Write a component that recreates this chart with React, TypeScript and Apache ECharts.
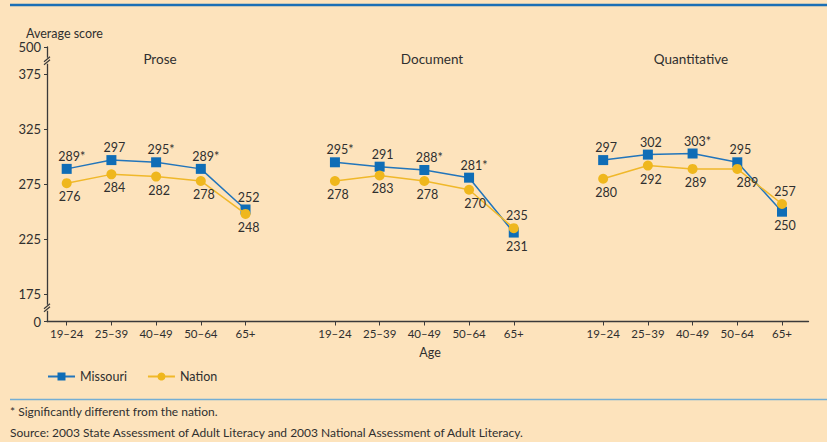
import React, { useEffect, useRef } from "react";
import * as echarts from "echarts";

const ageGroups = ["19–24", "25–39", "40–49", "50–64", "65+"];
const panels = ["Prose", "Document", "Quantitative"];

const missouriProse = [289, 297, 295, 289, 252];
const missouriDocument = [295, 291, 288, 281, 231];
const missouriQuantitative = [297, 302, 303, 295, 250];

const nationProse = [276, 284, 282, 278, 248];
const nationDocument = [278, 283, 278, 270, 235];
const nationQuantitative = [280, 292, 289, 289, 257];

// * = significantly different from the nation
const sigProse = [true, false, true, true, false];
const sigDocument = [true, false, true, true, false];
const sigQuantitative = [false, false, true, false, false];

const yTickValues = [150, 175, 225, 275, 325, 375, 400];
const yTickLabels = ["0", "175", "225", "275", "325", "375", "500"];
const yBreakValues = [162.5, 387.5];

// ---- styling (not data) ----
const FONT = "Lato, 'Noto Sans', sans-serif";
const BG = "#fde3bc";
const TEXT = "#2f2f2f";
const AXIS = "#3a3a3a";
const BLUE = "#0f6db6";
const BLUE_LINE = "#2275bb";
const YELLOW = "#efb71d";
const YELLOW_LINE = "#f0b82a";

const missouriLabelPlace = [
  ["top", "top", "top", "top", "top"],
  ["top", "top", "top", "top", "bottom"],
  ["top", "top", "top", "top", "bottom"],
];
const nationLabelPlace = [
  ["bottom", "bottom", "bottom", "bottom", "bottom"],
  ["bottom", "bottom", "bottom", "bottom", "top"],
  ["bottom", "bottom", "bottom", "bottom", "top"],
];
const nationLabelShift = [
  [0, 0, 0, 0, 0],
  [0, 0, 0, 3, 0],
  [0, 0, 0, 7, 0],
];

const GRID_TOP = 47;
const GRID_BOTTOM = 120.5;
const AXIS_LEFT = 47;

export default function App() {
  const ref = useRef<HTMLDivElement>(null);

  useEffect(() => {
    document.body.style.margin = "0";
    if (!ref.current) return;
    const chart = echarts.init(ref.current, null, { renderer: "svg" });

    const missouri = [missouriProse, missouriDocument, missouriQuantitative];
    const nation = [nationProse, nationDocument, nationQuantitative];
    const sig = [sigProse, sigDocument, sigQuantitative];

    const xCats: string[] = [];
    panels.forEach((p, pi) => {
      ageGroups.forEach((a) => xCats.push(p + "|" + a));
      if (pi < panels.length - 1) xCats.push("gap" + pi);
    });

    const missouriData: any[] = [];
    const nationData: any[] = [];
    panels.forEach((_, pi) => {
      ageGroups.forEach((_, ai) => {
        const mv = missouri[pi][ai];
        const starred = sig[pi][ai];
        const mPos = missouriLabelPlace[pi][ai];
        missouriData.push({
          value: mv,
          label: {
            position: mPos,
            distance: mPos === "top" ? 1 : 2,
            formatter: String(mv) + (starred ? "*" : ""),
            offset: [starred ? 5 : 3, 0],
          },
        });
        const nv = nation[pi][ai];
        const nPos = nationLabelPlace[pi][ai];
        nationData.push({
          value: nv,
          label: {
            position: nPos,
            distance: nPos === "top" ? 1 : 2,
            formatter: String(nv),
            offset: [3 + nationLabelShift[pi][ai], 0],
          },
        });
      });
      if (pi < panels.length - 1) {
        missouriData.push("-");
        nationData.push("-");
      }
    });

    const labelStyle = {
      show: true,
      color: TEXT,
      fontFamily: FONT,
      fontSize: 12.5,
    };

    const option: any = {
      animation: false,
      backgroundColor: BG,
      textStyle: { fontFamily: FONT },
      grid: [
        { left: AXIS_LEFT, right: 18.5, top: GRID_TOP, bottom: GRID_BOTTOM },
        { left: 66.7, right: 45, top: GRID_TOP, bottom: GRID_BOTTOM },
      ],
      xAxis: [
        {
          gridIndex: 0,
          type: "value",
          min: 0,
          max: 1,
          axisLine: { show: true, lineStyle: { color: AXIS, width: 1.3 } },
          axisTick: { show: false },
          axisLabel: { show: false },
          splitLine: { show: false },
        },
        {
          gridIndex: 1,
          type: "category",
          data: xCats,
          boundaryGap: false,
          axisLine: { show: false },
          axisTick: {
            show: true,
            length: 4,
            interval: (_i: number, v: string) => !String(v).startsWith("gap"),
            lineStyle: { color: AXIS, width: 1 },
          },
          axisLabel: {
            interval: 0,
            margin: 6,
            color: TEXT,
            fontFamily: FONT,
            fontSize: 11.5,
            formatter: (v: string) => (String(v).startsWith("gap") ? "" : String(v).split("|")[1]),
          },
          splitLine: { show: false },
        },
      ],
      yAxis: [
        {
          gridIndex: 0,
          type: "value",
          min: 150,
          max: 400,
          interval: 25,
          axisLine: { show: true, lineStyle: { color: AXIS, width: 1.3 } },
          axisTick: {
            show: true,
            length: 3,
            customValues: yTickValues,
            lineStyle: { color: AXIS, width: 1 },
          },
          axisLabel: {
            customValues: yTickValues,
            margin: 6,
            color: TEXT,
            fontFamily: FONT,
            fontSize: 13,
            formatter: (v: number) => {
              const i = yTickValues.indexOf(v);
              return i >= 0 ? yTickLabels[i] : "";
            },
          },
          splitLine: { show: false },
        },
        {
          gridIndex: 1,
          type: "value",
          min: 150,
          max: 400,
          show: false,
          splitLine: { show: false },
        },
      ],
      legend: {
        left: 47,
        top: 370,
        padding: 0,
        itemWidth: 27,
        itemHeight: 10,
        itemGap: 20,
        textStyle: { color: TEXT, fontFamily: FONT, fontSize: 12.5 },
        data: ["Missouri", "Nation"],
      },
      series: [
        {
          name: "Missouri",
          type: "line",
          xAxisIndex: 1,
          yAxisIndex: 1,
          data: missouriData,
          connectNulls: false,
          symbol: "rect",
          symbolSize: 10,
          itemStyle: { color: BLUE },
          lineStyle: { color: BLUE_LINE, width: 1.5 },
          label: labelStyle,
          z: 3,
        },
        {
          name: "Nation",
          type: "line",
          xAxisIndex: 1,
          yAxisIndex: 1,
          data: nationData,
          connectNulls: false,
          symbol: "circle",
          symbolSize: 10,
          itemStyle: { color: YELLOW },
          lineStyle: { color: YELLOW_LINE, width: 1.5 },
          label: labelStyle,
          z: 4,
        },
      ],
    };

    chart.setOption(option);

    const text = (x: number, y: number, t: string, size: number, align = "left") => ({
      type: "text",
      x,
      y,
      silent: true,
      style: {
        text: t,
        fill: TEXT,
        font: `${size}px ${FONT}`,
        align,
        verticalAlign: "middle",
      },
    });

    const graphics: any[] = [
      {
        type: "line",
        shape: { x1: 10, y1: 5, x2: 827, y2: 5 },
        style: { stroke: "#1b6fb5", lineWidth: 2.5 },
      },
      {
        type: "line",
        shape: { x1: 10, y1: 399.5, x2: 827, y2: 399.5 },
        style: { stroke: "#74aed4", lineWidth: 1.5 },
      },
      text(26, 33, "Average score", 12.5),
      text(160, 59, panels[0], 13.5, "center"),
      text(432, 59, panels[1], 13.5, "center"),
      text(691, 59, panels[2], 13.5, "center"),
      text(430, 352, "Age", 12.5, "center"),
      text(10, 411.5, "* Significantly different from the nation.", 12),
      text(10, 432, "Source: 2003 State Assessment of Adult Literacy and 2003 National Assessment of Adult Literacy.", 12),
    ];

    yBreakValues.forEach((bv) => {
      const y = chart.convertToPixel({ yAxisIndex: 0 }, bv) as number;
      const x = AXIS_LEFT;
      graphics.push({
        type: "rect",
        shape: { x: x - 2, y: y - 3, width: 4, height: 6 },
        style: { fill: BG },
        z: 100,
      });
      graphics.push({
        type: "line",
        shape: { x1: x - 3, y1: y + 1, x2: x + 3, y2: y - 4 },
        style: { stroke: AXIS, lineWidth: 1.2 },
        z: 101,
      });
      graphics.push({
        type: "line",
        shape: { x1: x - 3, y1: y + 4, x2: x + 3, y2: y - 1 },
        style: { stroke: AXIS, lineWidth: 1.2 },
        z: 101,
      });
    });

    chart.setOption({ graphic: graphics });

    return () => chart.dispose();
  }, []);

  return <div ref={ref} style={{ width: 827, height: 442 }} />;
}
